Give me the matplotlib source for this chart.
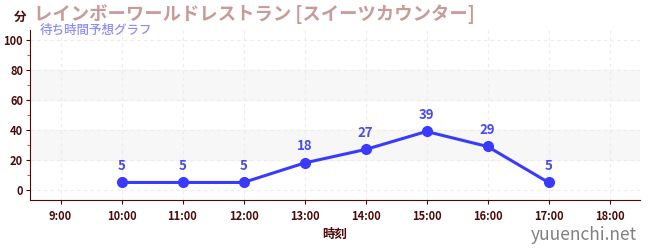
import matplotlib
matplotlib.use("Agg")
import matplotlib.pyplot as plt
from matplotlib.ticker import MultipleLocator

plt.rcParams['font.family'] = ['Noto Sans CJK JP', 'DejaVu Sans']

hours = [10, 11, 12, 13, 14, 15, 16, 17]
waits = [5, 5, 5, 18, 27, 39, 29, 5]
xticks = [9, 10, 11, 12, 13, 14, 15, 16, 17, 18]
xlabels = ["%d:00" % h for h in xticks]
bands = [(20, 40), (60, 80)]

dark = "#4d0a0a"
blue = "#3a3aff"

fig = plt.figure(figsize=(6.5, 2.5), dpi=100)
ax = fig.add_axes([30/650, 50/250, 610/650, 170/250])

for lo, hi in bands:
    ax.axhspan(lo, hi, color="#f7f7f7", zorder=0)

ax.plot(hours, waits, color=blue, lw=2.2, marker="o", ms=7, zorder=3)
for h, w in zip(hours, waits):
    ax.annotate(str(w), (h, w), xytext=(0, 7), textcoords="offset points",
                ha="center", va="bottom", color="#4a4aee", fontsize=9.5,
                fontweight="bold")

ax.set_xlim(8.5, 18.5)
ax.set_ylim(-6.7, 106.7)
ax.set_xticks(xticks)
ax.set_xticklabels(xlabels)
ax.yaxis.set_major_locator(MultipleLocator(20))
ax.yaxis.set_minor_locator(MultipleLocator(10))
ax.grid(True, which="major", color="#ececec", ls=(0, (3, 3)), lw=0.8)
ax.set_axisbelow(True)

for s in ["top", "right"]:
    ax.spines[s].set_visible(False)
for s in ["left", "bottom"]:
    ax.spines[s].set_color(dark)
ax.tick_params(axis="both", colors=dark, labelsize=8, length=3, pad=2)
ax.tick_params(axis="y", which="minor", colors="#dd2222", length=2)
ax.tick_params(axis="x", pad=4)
for lab in ax.get_xticklabels() + ax.get_yticklabels():
    lab.set_fontweight("bold")

ax.set_xlabel("時刻", color=dark, fontsize=9, fontweight="bold", labelpad=4)

fig.text(20/650, 1-17/250, "分", color=dark, fontsize=9, fontweight="bold",
         ha="center", va="center")
fig.text(34/650, 1-14/250, "レインボーワールドレストラン [スイーツカウンター]",
         color="#c99a9a", fontsize=13.2, fontweight="bold", ha="left", va="center")
fig.text(40/650, 1-30/250, "待ち時間予想グラフ", color="#8c8cff",
         fontsize=9, fontweight="medium", ha="left", va="center")
fig.text(637/650, 1-235/250, "yuuenchi.net", color="#808080", fontsize=12.5,
         ha="right", va="center")

fig.savefig("out.png", dpi=100)
